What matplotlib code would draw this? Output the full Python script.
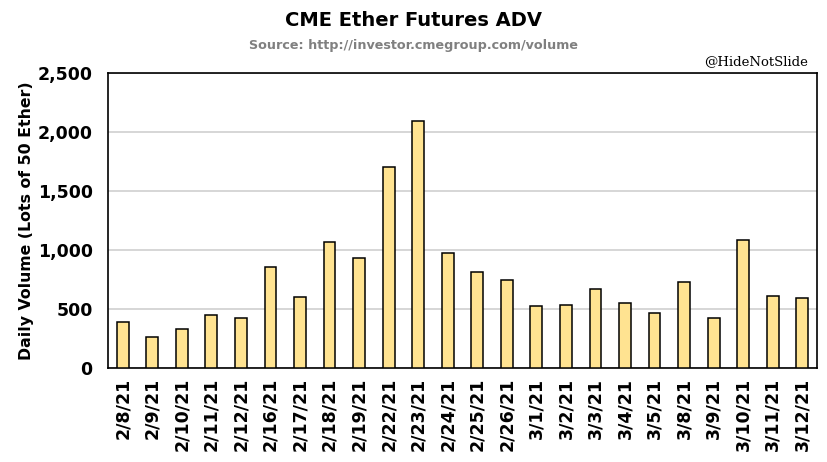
import numpy as np
import matplotlib
matplotlib.use("Agg")
import matplotlib.pyplot as plt
from matplotlib.ticker import FuncFormatter

dates = ["2/8/21", "2/9/21", "2/10/21", "2/11/21", "2/12/21", "2/16/21",
         "2/17/21", "2/18/21", "2/19/21", "2/22/21", "2/23/21", "2/24/21",
         "2/25/21", "2/26/21", "3/1/21", "3/2/21", "3/3/21", "3/4/21",
         "3/5/21", "3/8/21", "3/9/21", "3/10/21", "3/11/21", "3/12/21"]
adv = [390, 263, 330, 449, 424, 856, 602, 1068, 932, 1703, 2093, 975,
       814, 746, 525, 534, 669, 551, 466, 729, 424, 1085, 610, 593]

plt.rcParams["font.family"] = "DejaVu Sans"

fig = plt.figure(figsize=(8.27, 4.62), dpi=100)
ax = fig.add_axes([108 / 827, 1 - 368 / 462, 709 / 827, 295 / 462])

x = np.arange(len(dates))
ax.bar(x, adv, width=0.4, color="#FFE391", edgecolor="black", linewidth=1.1, zorder=3)

ax.set_xlim(-0.5, len(dates) - 0.5)
ax.set_ylim(0, 2500)
ax.set_yticks(np.arange(0, 2501, 500))
ax.yaxis.set_major_formatter(FuncFormatter(lambda v, p: f"{int(v):,}"))
ax.set_xticks(x)
ax.set_xticklabels(dates, rotation=90, fontsize=12.5, fontweight="bold")
for t in ax.get_yticklabels():
    t.set_fontsize(12.5)
    t.set_fontweight("bold")
ax.tick_params(axis="y", length=0, pad=11)
ax.tick_params(axis="x", length=0, pad=7)
ax.grid(axis="y", color="#d0d0d0", linewidth=1.2, zorder=0)
for s in ax.spines.values():
    s.set_linewidth(1.2)

ax.set_ylabel("Daily Volume (Lots of 50 Ether)", fontsize=11.3, fontweight="bold")
ax.yaxis.set_label_coords(-0.104, 0.5)

fig.text(0.5, 1 - 21 / 462, "CME Ether Futures ADV", ha="center", va="center",
         fontsize=14, fontweight="bold")
fig.text(0.5, 1 - 45 / 462, "Source: http://investor.cmegroup.com/volume", ha="center",
         va="center", fontsize=9.2, fontweight="bold", color="#808080")
fig.text(808 / 827, 1 - 62 / 462, "@HideNotSlide", ha="right", va="center",
         fontsize=9.5, family="DejaVu Serif")

fig.savefig("out.png", dpi=100)
